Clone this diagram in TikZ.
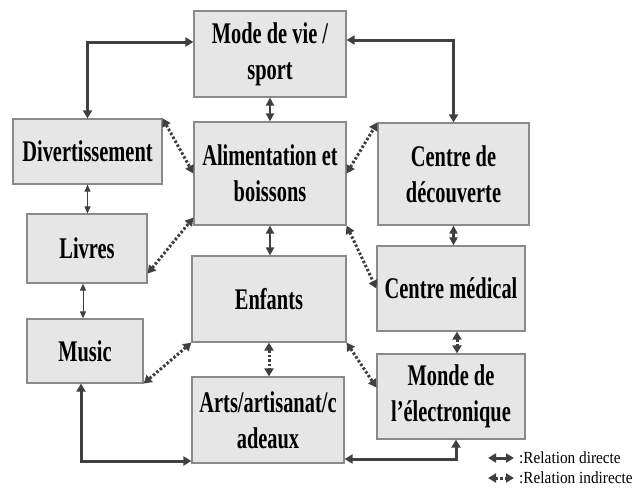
\documentclass[tikz,border=0pt]{standalone}
\usepackage{fontspec}
\setmainfont{Liberation Serif}[FakeStretch=0.68]
\newfontfamily\legfont{Liberation Serif}[FakeStretch=0.9]
\usetikzlibrary{arrows.meta}
\definecolor{boxfill}{HTML}{E6E6E6}
\definecolor{boxline}{HTML}{8A8A8A}
\definecolor{arrowc}{HTML}{404040}
\tikzset{
  box/.style={draw=boxline, fill=boxfill, line width=1.2pt, inner sep=0pt, align=center,
    font=\bfseries\fontsize{30}{36}\selectfont},
  direct/.style={draw=arrowc, line width=3pt,
    {Triangle[length=8pt,width=9pt]}-{Triangle[length=8pt,width=9pt]}},
  medium/.style={draw=arrowc, line width=2.4pt,
    {Triangle[length=8pt,width=8pt]}-{Triangle[length=8pt,width=8pt]}},
  thin/.style={draw=arrowc, line width=1pt,
    {Triangle[length=7pt,width=6pt]}-{Triangle[length=7pt,width=6pt]}},
  indirect/.style={draw=arrowc, line width=3pt, dash pattern=on 2.5pt off 2pt,
    {Triangle[length=8pt,width=9pt]}-{Triangle[length=8pt,width=9pt]}},
  legtext/.style={anchor=west, inner sep=0pt, font=\legfont\fontsize{17}{19}\selectfont}
}
\begin{document}
\begin{tikzpicture}[x=1pt,y=-1pt]
\useasboundingbox (0,0) rectangle (636,498);
% boxes
\node[box, minimum width=152pt, minimum height=86pt]  (mode)   at (270,54)    {Mode de vie /\\sport};
\node[box, minimum width=149pt, minimum height=65pt]  (div)    at (87.5,151.5) {Divertissement};
\node[box, minimum width=152pt, minimum height=103pt] (alim)   at (270,173.5) {Alimentation et\\boissons};
\node[box, minimum width=151pt, minimum height=102pt] (cd)     at (453.5,174) {Centre de\\découverte};
\node[box, minimum width=120pt, minimum height=69pt]  (livres) at (87,248.5)  {Livres};
\node[box, minimum width=154pt, minimum height=86pt]  (enf)    at (269,299)   {Enfants};
\node[box, minimum width=148pt, minimum height=85pt]  (cm)     at (451,288.5) {Centre médical};
\node[box, minimum width=116pt, minimum height=64pt]  (music)  at (85,351)    {Music};
\node[box, minimum width=152pt, minimum height=86pt]  (arts)   at (268,420)   {Arts/artisanat/c\\adeaux};
\node[box, minimum width=148pt, minimum height=85pt]  (monde)  at (451,396.5) {Monde de\\l’électronique};
% direct relations
\draw[direct] (div.north) |- ([yshift=12pt]mode.west);
\draw[direct] ([yshift=14pt]mode.east) -| (cd.north);
\draw[direct] ([xshift=-4pt]music.south) |- ([yshift=-41pt]arts.west);
\draw[direct] ([yshift=-39pt]arts.east) -| ([xshift=5pt]monde.south);
\draw[medium] (mode.south) -- (alim.north);
\draw[medium] (alim.south) -- (alim.south |- enf.north);
\draw[medium] (cd.south) -- (cd.south |- cm.north);
\draw[thin] (div.south) -- (div.south |- livres.north);
\draw[thin] ([xshift=-4pt]livres.south) -- ([xshift=-4pt]livres.south |- music.north);
% indirect relations
\draw[indirect] (div.north east) -- (alim.west);
\draw[indirect] ([yshift=10pt]livres.south east) -- ([yshift=8pt]alim.south west);
\draw[indirect] (alim.east) -- (cd.north west);
\draw[indirect] (alim.south east) -- (cm.west);
\draw[indirect] (enf.south west) -- (music.south east);
\draw[indirect] (enf.south) -- (enf.south |- arts.north);
\draw[indirect] (enf.south east) -- ([yshift=9pt]monde.west);
\draw[indirect] ([xshift=6pt]cm.south) -- ([xshift=6pt]monde.north);
% legend
\coordinate (l1a) at (488,458);
\coordinate (l1b) at (514,458);
\coordinate (l2a) at (488,478);
\coordinate (l2b) at (514,478);
\draw[direct] (l1a) -- (l1b);
\draw[indirect] (l2a) -- (l2b);
\node[legtext] (lt1) at (519,458) {:Relation directe};
\node[legtext] (lt2) at (519,478) {:Relation indirecte};
\end{tikzpicture}
\end{document}
